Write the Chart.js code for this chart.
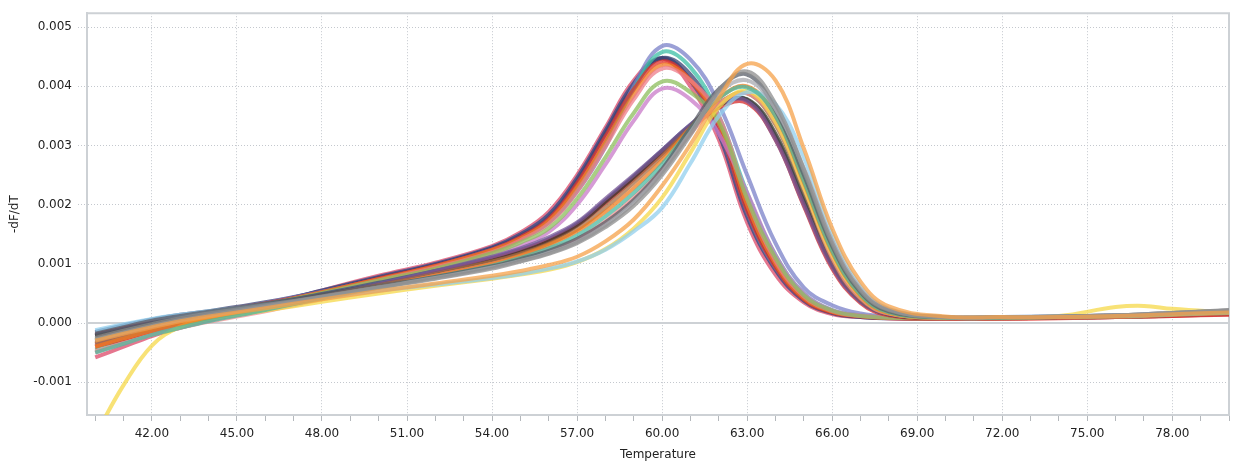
<!DOCTYPE html>
<html>
<head>
<meta charset="utf-8">
<script src="https://cdn.jsdelivr.net/npm/chart.js@4.4.1/dist/chart.umd.min.js"></script>
<style>
body { margin: 0; background: #fff; }
</style>
</head>
<body>
<canvas id="canvas" width="1235" height="461"></canvas>
<script>
// temperatures (x) shared by every curve
const temps = [40, 41, 42, 43, 44, 46, 48, 50, 52, 54, 55, 56, 57, 58, 59, 60, 61, 62, 63, 64, 65, 66, 67, 68, 70, 72, 74, 76, 77, 78, 80];

// y axis tick values, x axis labelled ticks
const yTicks = [-0.001, 0, 0.001, 0.002, 0.003, 0.004, 0.005];
const xLabels = [42, 45, 48, 51, 54, 57, 60, 63, 66, 69, 72, 75, 78];

// -dF/dT, early melting group (peak ~60)
const a1 = [-0.00022,-0.0001,0.00002,0.0001,0.00018,0.00034,0.00053,0.00074,0.00096,0.00124,0.00143,0.0017,0.00222,0.00298,0.004,0.00468,0.00445,0.0037,0.0025,0.00135,0.0006,0.0003,0.00016,0.00011,0.00009,0.0001,0.00011,0.00013,0.00014,0.00016,0.00019];
const a2 = [-0.00045,-0.0003,-0.00015,-0.00004,0.00006,0.00026,0.00048,0.0007,0.00093,0.00122,0.00142,0.0017,0.00226,0.00303,0.00395,0.00458,0.00432,0.0035,0.0022,0.00115,0.0005,0.00022,0.00013,0.0001,0.00008,0.00009,0.0001,0.00012,0.00013,0.00015,0.00018];
const a3 = [-0.0003,-0.00016,-0.00003,0.00007,0.00015,0.00032,0.00055,0.00078,0.001,0.00128,0.0015,0.00183,0.00245,0.00325,0.00405,0.00448,0.0041,0.0032,0.0018,0.0009,0.00038,0.00017,0.0001,0.00008,0.00007,0.00008,0.00009,0.00011,0.00012,0.00014,0.00017];
const a4 = [-0.00058,-0.0004,-0.00022,-0.00008,0.00004,0.00028,0.00055,0.0008,0.00102,0.0013,0.00153,0.00188,0.0025,0.0033,0.0041,0.00447,0.004,0.0031,0.0017,0.00082,0.00035,0.00015,0.0001,0.00008,0.00007,0.00008,0.00009,0.0001,0.00011,0.00013,0.00016];
const a5 = [-0.0002,-0.00008,0.00003,0.00011,0.00018,0.00033,0.00052,0.00075,0.00097,0.00124,0.00145,0.00176,0.00236,0.00315,0.00395,0.00442,0.0041,0.0033,0.0019,0.00095,0.0004,0.00018,0.00011,0.00008,0.00007,0.00007,0.00008,0.0001,0.00011,0.00012,0.00015];
const a6 = [-0.00035,-0.0002,-0.00007,0.00004,0.00013,0.00031,0.00052,0.00074,0.00096,0.00123,0.00143,0.00173,0.0023,0.00305,0.00385,0.00436,0.0041,0.0034,0.002,0.001,0.00042,0.00019,0.00012,0.00009,0.00008,0.00008,0.00009,0.00011,0.00012,0.00014,0.00017];
const a7 = [-0.0005,-0.00033,-0.00017,-0.00005,0.00006,0.00026,0.00049,0.00072,0.00094,0.0012,0.0014,0.00168,0.00222,0.00298,0.00378,0.0043,0.0041,0.0035,0.0021,0.00105,0.00045,0.0002,0.00012,0.00009,0.00008,0.00008,0.00009,0.00011,0.00012,0.00014,0.00017];
const a8 = [-0.00028,-0.00014,-0.00001,0.00009,0.00017,0.00032,0.00051,0.00072,0.00092,0.00118,0.00136,0.0016,0.0021,0.0028,0.00355,0.00408,0.0039,0.0034,0.0021,0.0011,0.00047,0.00021,0.00012,0.00009,0.00008,0.00008,0.00009,0.0001,0.00011,0.00013,0.00016];
const a9 = [-0.00038,-0.00023,-0.0001,0.00001,0.0001,0.00027,0.00047,0.00068,0.00088,0.00113,0.00131,0.00154,0.002,0.00268,0.00342,0.00396,0.00378,0.0032,0.0022,0.00115,0.0005,0.00022,0.00013,0.0001,0.00008,0.00008,0.00009,0.0001,0.00011,0.00013,0.00016];
const a10 = [-0.00015,-0.00004,0.00006,0.00014,0.0002,0.00035,0.00054,0.00076,0.00098,0.00126,0.00147,0.00179,0.0024,0.0032,0.004,0.00448,0.0042,0.0034,0.00195,0.00098,0.00042,0.00018,0.00011,0.00009,0.00008,0.00008,0.00009,0.00011,0.00012,0.00014,0.00017];

// -dF/dT, late melting group (peak ~63)
const b1 = [-0.0003,-0.00018,-0.00007,0.00003,0.00011,0.00025,0.0004,0.00054,0.00067,0.0008,0.00088,0.00098,0.00112,0.00138,0.00175,0.00232,0.00302,0.0038,0.00438,0.0041,0.00295,0.0016,0.0007,0.00028,0.00011,0.0001,0.0001,0.00012,0.00013,0.00015,0.00018];
const b2 = [-0.00025,-0.00013,-0.00002,0.00008,0.00016,0.0003,0.00045,0.0006,0.00075,0.00092,0.00104,0.00117,0.00135,0.00162,0.00198,0.0025,0.00318,0.00392,0.00425,0.0037,0.0026,0.00135,0.00055,0.00022,0.0001,0.0001,0.00011,0.00013,0.00015,0.00017,0.00022];
const b3 = [-0.00018,-0.00007,0.00004,0.00012,0.00019,0.00033,0.00048,0.00063,0.00078,0.00096,0.00108,0.00122,0.00142,0.0017,0.00208,0.0026,0.0033,0.00395,0.0042,0.0036,0.0025,0.0013,0.00052,0.0002,0.0001,0.0001,0.00011,0.00013,0.00015,0.00017,0.00021];
const b4 = [-0.0005,-0.00035,-0.0002,-0.00008,0.00003,0.00022,0.00042,0.0006,0.00078,0.00097,0.0011,0.00126,0.00148,0.0018,0.0022,0.00268,0.00328,0.0038,0.00398,0.0035,0.0024,0.00122,0.00048,0.00018,0.00009,0.00009,0.0001,0.00012,0.00013,0.00015,0.00018];
const b5 = [-0.00012,-0.00002,0.00007,0.00014,0.0002,0.00031,0.00043,0.00055,0.00065,0.00076,0.00083,0.00092,0.00104,0.00124,0.00155,0.00195,0.0027,0.0035,0.0039,0.0037,0.0028,0.0015,0.00062,0.00024,0.0001,0.0001,0.00011,0.00012,0.00013,0.00015,0.00018];
const b6 = [-0.0004,-0.00026,-0.00013,-0.00002,0.00008,0.00026,0.00044,0.00062,0.0008,0.001,0.00114,0.00132,0.00155,0.00188,0.00228,0.00275,0.0033,0.0038,0.004,0.0035,0.00238,0.0012,0.00046,0.00017,0.00009,0.00009,0.0001,0.00011,0.00012,0.00014,0.00017];
const b7 = [-0.0019,-0.00105,-0.00038,-0.00006,0.00007,0.00021,0.00036,0.0005,0.00063,0.00075,0.00082,0.0009,0.00103,0.00125,0.0016,0.00212,0.00288,0.00365,0.00392,0.0034,0.0023,0.00115,0.00045,0.00017,0.00009,0.0001,0.00012,0.00027,0.00029,0.00024,0.00018];
const b8 = [-0.00032,-0.00022,-0.00012,-0.00002,0.00006,0.00024,0.00045,0.00066,0.00088,0.00112,0.00126,0.00145,0.0017,0.0021,0.0025,0.00292,0.00335,0.0037,0.00375,0.0031,0.002,0.00095,0.00036,0.00015,0.00009,0.00009,0.0001,0.00011,0.00012,0.00014,0.00017];
const b9 = [-0.00022,-0.00012,-0.00002,0.00007,0.00014,0.00029,0.00047,0.00065,0.00084,0.00106,0.0012,0.00138,0.00165,0.00205,0.00246,0.0029,0.00333,0.00368,0.00378,0.0032,0.0021,0.001,0.00038,0.00015,0.00009,0.00009,0.0001,0.00011,0.00012,0.00014,0.00017];
const b10 = [-0.0004,-0.00027,-0.00015,-0.00004,0.00005,0.00023,0.00044,0.00064,0.00085,0.00108,0.00122,0.0014,0.00165,0.00203,0.00243,0.00286,0.00328,0.00364,0.00372,0.0031,0.00198,0.00092,0.00034,0.00013,0.00008,0.00008,0.00009,0.0001,0.00011,0.00012,0.00014];
const b11 = [-0.00048,-0.00034,-0.0002,-0.00008,0.00002,0.0002,0.0004,0.0006,0.0008,0.001,0.00112,0.00126,0.00142,0.00172,0.00212,0.0026,0.0032,0.0037,0.00388,0.0034,0.0023,0.0011,0.00042,0.00016,0.00009,0.00009,0.0001,0.00011,0.00012,0.00014,0.00017];
const b12 = [-0.0002,-0.0001,0,0.00009,0.00016,0.00031,0.00049,0.00068,0.00088,0.0011,0.00124,0.00142,0.00168,0.00207,0.00248,0.00292,0.00335,0.0037,0.00377,0.00315,0.00205,0.00098,0.00037,0.00015,0.00009,0.00009,0.0001,0.00011,0.00012,0.00014,0.00017];
const b13 = [-0.00035,-0.00022,-0.0001,0,0.00009,0.00026,0.00045,0.00064,0.00083,0.00104,0.00117,0.00134,0.00158,0.00195,0.00237,0.00282,0.0033,0.00372,0.00388,0.00335,0.00225,0.00108,0.0004,0.00016,0.00009,0.00009,0.0001,0.00011,0.00012,0.00014,0.00017];
const b14 = [-0.00028,-0.00016,-0.00005,0.00005,0.00013,0.00028,0.00044,0.0006,0.00076,0.00094,0.00105,0.00118,0.00137,0.00165,0.00203,0.00255,0.00322,0.00388,0.0041,0.00362,0.00262,0.0014,0.00058,0.00023,0.0001,0.0001,0.00011,0.00013,0.00015,0.00017,0.00021];

const curves = [b1, b2, b14, b3, b4, b5, b6, b7, b11, b13, b8, b9, b10, b12, a8, a9, a7, a6, a5, a2, a1, a10, a3, a4];
const colors = ['#f5a24a', '#8e8e8e', '#a8aab0', '#5a5f6a', '#4cbaa2', '#92cfee', '#ef7e22', '#f6d848', '#f29090', '#a86c42', '#7a5898', '#3a3a2c', '#d42a2a', '#3c4c86',
                '#8cbe5c', '#c87ac8', '#ee7c8a', '#f07820', '#e0302a', '#3cbfa5', '#7a80c8', '#3a4070', '#2d4a86', '#dc4868'];

function hexA(hex, a) {
    let r = parseInt(hex.slice(1, 3), 16), g = parseInt(hex.slice(3, 5), 16), b = parseInt(hex.slice(5, 7), 16);
    return `rgba(${r}, ${g}, ${b}, ${a})`;
}

let datasets = curves.map((vals, i) => ({
    data: vals.map((v, j) => ({ x: temps[j], y: v })),
    borderColor: hexA(colors[i], 0.75),
    borderWidth: 4,
    pointRadius: 0,
    tension: 0.4,
    fill: false
}));

// top/right frame and solid zero line
const framePlugin = {
    id: 'frame',
    beforeDatasetsDraw(chart) {
        let c = chart.ctx, a = chart.chartArea;
        let y0 = chart.scales.y.getPixelForValue(0);
        c.save();
        c.strokeStyle = '#cdd1d5';
        c.lineWidth = 2;
        c.beginPath();
        c.moveTo(a.left, y0); c.lineTo(a.right, y0);
        c.moveTo(a.left, a.top); c.lineTo(a.right, a.top); c.lineTo(a.right, a.bottom);
        c.stroke();
        c.restore();
    }
};

Chart.defaults.font.family = 'DejaVu Sans';
Chart.defaults.font.size = 12;
Chart.defaults.color = '#222';

var ctx = document.getElementById('canvas').getContext('2d');
new Chart(ctx, {
    type: 'line',
    data: { datasets: datasets },
    plugins: [framePlugin],
    options: {
        responsive: false,
        animation: false,
        layout: { padding: { top: 13, right: 3, left: 0, bottom: 0 } },
        plugins: { legend: { display: false }, tooltip: { enabled: false } },
        scales: {
            x: {
                type: 'linear',
                min: 39.71,
                max: 80.0,
                afterBuildTicks: (scale) => {
                    let t = [];
                    for (let v = 40; v <= 80; v++) t.push({ value: v });
                    scale.ticks = t;
                },
                afterFit: (scale) => { scale.height = 46; },
                ticks: {
                    autoSkip: false,
                    maxRotation: 0,
                    padding: 6,
                    callback: (v) => xLabels.includes(v) ? v.toFixed(2) : ''
                },
                grid: {
                    color: (c) => (c.tick && xLabels.includes(c.tick.value)) ? '#c4c8ce' : 'rgba(0,0,0,0)',
                    tickColor: '#b4b8bc',
                    tickBorderDash: [],
                    tickLength: 6
                },
                border: { color: '#cdd1d5', width: 2, dash: [1, 2] },
                title: { display: true, text: 'Temperature', padding: { top: 0, bottom: -1 } }
            },
            y: {
                min: -0.001554,
                max: 0.005236,
                afterBuildTicks: (scale) => { scale.ticks = yTicks.map(v => ({ value: v })); },
                afterFit: (scale) => { scale.width = 87; },
                ticks: {
                    padding: 6,
                    callback: (v) => v.toFixed(3)
                },
                grid: {
                    color: (c) => (c.tick && c.tick.value === 0) ? 'rgba(0,0,0,0)' : '#c4c8ce',
                    tickColor: '#c4c8ce',
                    tickBorderDash: [1, 2],
                    tickLength: 9
                },
                border: { color: '#cdd1d5', width: 2, dash: [1, 2] },
                title: { display: true, text: '-dF/dT', padding: { top: 8, bottom: 0 } }
            }
        }
    }
});
</script>
</body>
</html>
